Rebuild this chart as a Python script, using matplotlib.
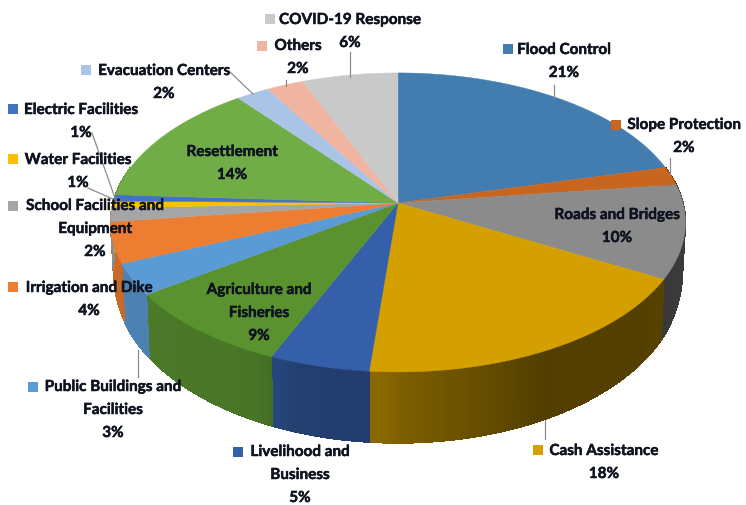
import matplotlib
matplotlib.use("Agg")
import matplotlib.pyplot as plt
import matplotlib.patheffects as pe
from matplotlib.collections import PolyCollection
from matplotlib.colors import to_rgb
import numpy as np

plt.rcParams['font.family'] = ['Lato', 'DejaVu Sans']

categories = ["Flood Control", "Slope Protection", "Roads and Bridges", "Cash Assistance",
              "Livelihood and\nBusiness", "Agriculture and\nFisheries", "Public Buildings and\nFacilities",
              "Irrigation and Dike", "School Facilities and\nEquipment", "Water Facilities",
              "Electric Facilities", "Resettlement", "Evacuation Centers", "Others", "COVID-19 Response"]
shares = [21, 2, 10.1, 18.3, 5, 8.8, 3.4, 4.4, 1.5, 0.7, 0.7, 13.5, 2.1, 2.4, 6.1]
colors = ["#437db0", "#c8661f", "#8b8b8b", "#d3a000", "#355fa8", "#5a9230", "#5b9bd5",
          "#ed7d31", "#a5a5a5", "#ffc000", "#4472c4", "#70ad47", "#a9c4e6", "#f0b5a0", "#c9c9c9"]

# label layout: text centre x, first line y, key square x, key square y (None = no key)
label_pos = [(564, 50, 508, 49), (684, 125, 616, 125), (617, 215, None, None), (604, 451, 538, 450),
             (300, 452, 238, 452), (259, 290, None, None), (113, 387, 33, 387),
             (89, 288, 13, 287), (95, 206, 13, 206), (78, 160, 13, 159),
             (81, 110, 13, 109), (232, 152, None, None), (164, 71, 86, 70),
             (298, 46, 262, 46), (350, 20, 270, 19)]
line_gap = 23

# leader lines
leaders = [((554, 554), (85, 97)), ((670, 670), (158, 175)), ((545, 545), (420, 439)),
           ((138, 138), (350, 377)), ((92, 115), (133, 198)), ((88, 115), (188, 200)),
           ((230, 253), (72, 94)), ((286, 286), (80, 86)), ((350, 350), (52, 77))]

# pie geometry in pixels
cx, cy = 398, 203
rx, ry = 285, 147
tilt = 0.13


def project(angle):
    # angle in degrees clockwise from 12 o'clock, gives point on the rim in perspective
    a = np.radians(angle)
    u, v = np.sin(a), np.cos(a)
    w = 1 + tilt * v
    return cx + rx * u / w, cy - ry * v / w


def project_low(angle):
    # same rim on the underside, it is shallower towards the back
    x, y = project(angle)
    v = np.cos(np.radians(angle))
    return cx + (x - cx) * 0.99, y + np.interp(v, [-1, -0.45, 0, 0.2], [71, 60, 42, 35])


def side_shade(angle):
    # left side of the wall is lit, right side goes dark
    return np.interp(np.sin(np.radians(angle)), [-1, -0.45, -0.3, -0.05, 0, 0.45, 0.8, 1],
                     [0.85, 0.8, 0.66, 0.65, 0.6, 0.39, 0.4, 0.43])


fig = plt.figure(figsize=(7.46, 5.05), dpi=100)
ax = fig.add_axes([0, 0, 1, 1])
ax.set_xlim(0, 746)
ax.set_ylim(505, 0)
ax.axis("off")

edges = np.cumsum([0] + shares) * 3.6

# side wall, plain shape first for a clean edge then the shaded strips
strips = []
strip_cols = []
for i in range(len(shares)):
    angs = np.arange(edges[i], edges[i + 1] + 0.25, 0.5)
    angs[-1] = edges[i + 1]
    angs = angs[np.cos(np.radians(angs)) < 0.25]
    if len(angs) < 2:
        continue
    xs, ys = project(angs)
    xl, yl = project_low(angs)
    base = np.array(to_rgb(colors[i]))
    ax.fill(np.r_[xs, xl[::-1]], np.r_[ys, yl[::-1]], color=tuple(base * side_shade(angs.mean())), lw=0, zorder=1)
    for j in range(len(angs) - 1):
        strips.append([(xs[j], ys[j]), (xs[j + 1], ys[j + 1]), (xl[j + 1], yl[j + 1]), (xl[j], yl[j])])
        strip_cols.append(tuple(base * side_shade((angs[j] + angs[j + 1]) / 2)))
ax.add_collection(PolyCollection(strips, facecolors=strip_cols, edgecolors=strip_cols, linewidths=0.4,
                                 antialiaseds=False, zorder=1.5))

# top face
for i in range(len(shares)):
    angs = np.linspace(edges[i], edges[i + 1], 60)
    xs, ys = project(angs)
    ax.fill(np.r_[cx, xs], np.r_[cy, ys], color=colors[i], lw=0.3, zorder=2)

for lx, ly in leaders:
    ax.plot(lx, ly, color="#8c8c8c", lw=0.9, zorder=3)

for name, share, col, (tx, ty, kx, ky) in zip(categories, shares, colors, label_pos):
    lines = name.split("\n") + ["%.0f%%" % share]
    for n, line in enumerate(lines):
        ax.text(tx, ty + n * line_gap, line, ha="center", va="center", fontsize=11,
                fontweight="bold", color="#0f1420", zorder=5,
                path_effects=[pe.withStroke(linewidth=0.35, foreground="#0f1420")])
    if kx is not None:
        ax.plot([kx], [ky], marker="s", ms=7, color=col, mew=0, zorder=4)

fig.savefig("out.png", dpi=100)
